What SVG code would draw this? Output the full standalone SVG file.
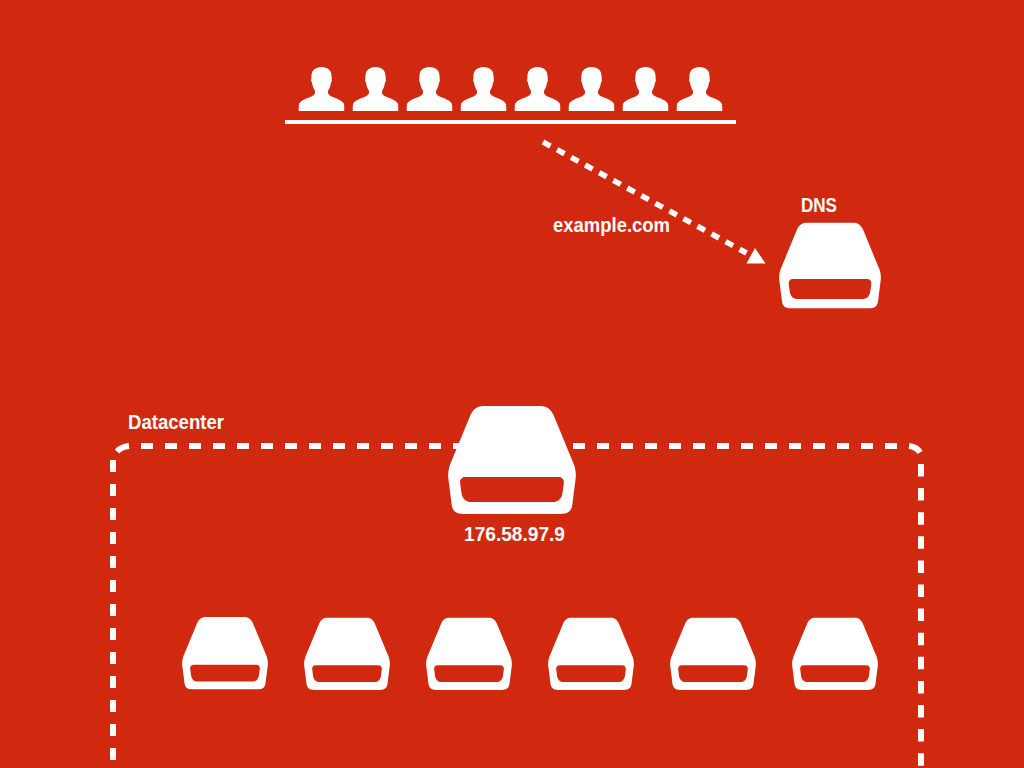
<svg xmlns="http://www.w3.org/2000/svg" xmlns:xlink="http://www.w3.org/1999/xlink" width="1024" height="768" viewBox="0 0 1024 768">
<style>
.bg{fill:#d02910}
.w{fill:#fff}
.lbl{font-family:"Liberation Sans",Arial,sans-serif;font-weight:700;font-size:20px;fill:#fff}
.dash{fill:none;stroke:#fff;stroke-width:6}
</style>
<defs>
<symbol id="server" viewBox="0 0 102 86">
<path class="w" fill-rule="evenodd" d="M28,0H74C79,0 82,3 84,7L100.500,47C101.800,51 102,54 101.800,57L99,79C98.300,84 95,86 90,86H12C7,86 3.700,84 3,79L0.200,57C0,54 0.200,51 1.500,47L18,7C20,3 23,0 28,0ZM14,56.500C11,56.500 9.300,58.500 9.700,61.500L10.700,69C11.400,74 14.500,76.500 18.500,76.500H83.500C87.500,76.500 90.600,74 91.300,69L92.300,61.500C92.700,58.500 91,56.500 88,56.500Z"/>
</symbol>
<symbol id="person" viewBox="0 0 46 44">
<path class="w" d="M23,0C29.500,0 33,3.500 33,9L33.300,12.500Q33.800,14.500 32.500,15.500C32,19 31,21.500 29.500,24C29,26 30,28 33,29.500C38,31.500 44,33.500 45.500,37C46,39 46,41 46,44H0C0,41 0,39 0.500,37C2,33.500 8,31.500 13,29.500C16,28 17,26 16.500,24C15,21.500 14,19 13.500,15.500Q12.200,14.500 12.700,12.500L13,9C13,3.500 16.500,0 23,0Z"/>
</symbol>
</defs>
<rect class="bg" width="1024" height="768"/>
<g id="connectors">
<path class="dash" d="M113,460V768" stroke-dasharray="12 12"/>
<path class="dash" d="M117,451.500Q121,447 129,446"/>
<path class="dash" d="M141,446H909" stroke-dasharray="12 12"/>
<path class="dash" d="M909,446Q917,447 920,452.500"/>
<path class="dash" d="M921,464V768" stroke-dasharray="12.500 11.600"/>
<path d="M543,142L746.500,253" fill="none" stroke="#fff" stroke-width="5.500" stroke-dasharray="8.500 7.500"/>
<polygon class="w" points="755,248 746.500,263.500 765.500,263.500"/>
</g>
<g id="users">
<use href="#person" x="298.500" y="67" width="46" height="44"/>
<use href="#person" x="352.500" y="67" width="46" height="44"/>
<use href="#person" x="406.500" y="67" width="46" height="44"/>
<use href="#person" x="460.500" y="67" width="46" height="44"/>
<use href="#person" x="514.500" y="67" width="46" height="44"/>
<use href="#person" x="568.500" y="67" width="46" height="44"/>
<use href="#person" x="622.500" y="67" width="46" height="44"/>
<use href="#person" x="676.500" y="67" width="46" height="44"/>
<rect class="w" x="285" y="120" width="451" height="4"/>
</g>
<text class="lbl" x="553" y="232" textLength="117" lengthAdjust="spacingAndGlyphs">example.com</text>
<g id="dns">
<text class="lbl" x="801" y="212" textLength="36" lengthAdjust="spacingAndGlyphs">DNS</text>
<use href="#server" x="779" y="222.500" width="102" height="86"/>
</g>
<text class="lbl" x="128" y="429" textLength="96" lengthAdjust="spacingAndGlyphs">Datacenter</text>
<g id="lb">
<use href="#server" x="448" y="406" width="128" height="108"/>
<text class="lbl" x="464" y="541" textLength="101" lengthAdjust="spacingAndGlyphs">176.58.97.9</text>
</g>
<g id="s1"><use href="#server" x="181.500" y="617" width="87" height="72.500"/></g>
<g id="s2"><use href="#server" x="303.500" y="617.500" width="87" height="72.500"/></g>
<g id="s3"><use href="#server" x="425.500" y="617.500" width="87" height="72.500"/></g>
<g id="s4"><use href="#server" x="547.500" y="617.500" width="87" height="72.500"/></g>
<g id="s5"><use href="#server" x="669.500" y="617.500" width="87" height="72.500"/></g>
<g id="s6"><use href="#server" x="791.500" y="617.500" width="87" height="72.500"/></g>
</svg>
